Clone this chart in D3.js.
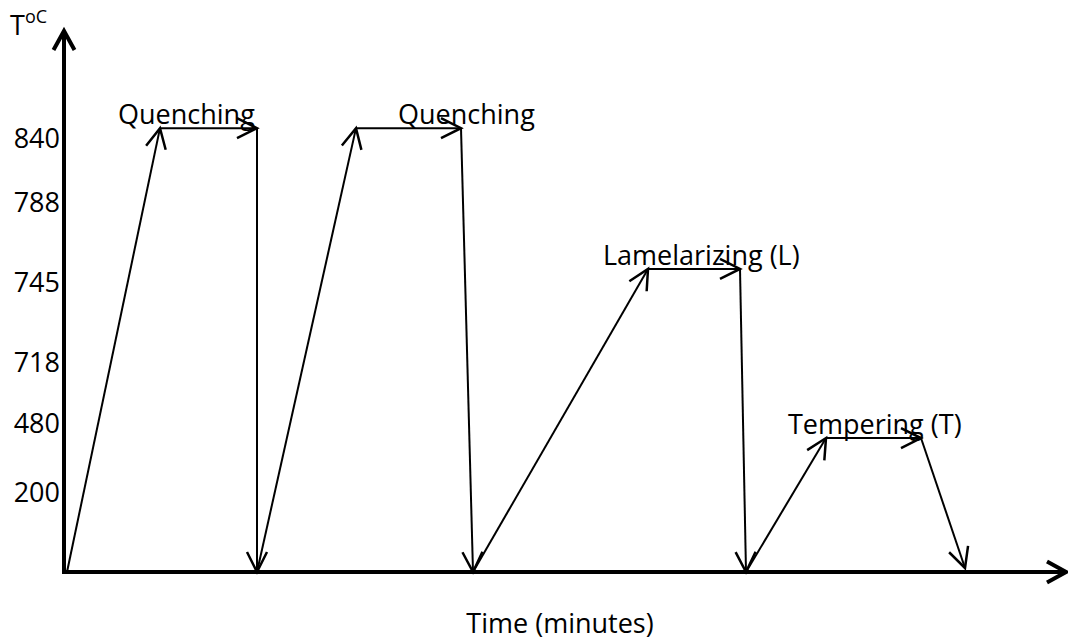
<!DOCTYPE html>
<html>
<head>
<meta charset="utf-8">
<script src="https://cdn.jsdelivr.net/npm/d3@7"></script>
<style>
  html, body { margin: 0; padding: 0; background: #fff; }
  svg { display: block; }
  text { font-family: "Open Sans", Lato, sans-serif; fill: #000; }
</style>
</head>
<body>
<div id="chart"></div>
<script>
// ---------------- data ----------------
const yTickValues = [200, 480, 718, 745, 788, 840];
// schedule points: time (arbitrary units) and temperature (°C)
const times = [0.2, 9.5, 19.2, 19.2, 29.1, 39.6, 40.8, 58.3, 67.5, 68.1, 76.1, 85.6, 90.0];
const temps = [0, 848, 848, 0, 848, 848, 0, 752, 752, 0, 419, 419, 10];
// annotation labels (anchored in data units)
const labelTexts = ["Quenching", "Quenching", "Lamelarizing (L)", "Tempering (T)"];
const labelTimes = [5.3, 33.3, 53.8, 72.3];
const labelTemps = [848, 848, 752, 419];
const xTitle = "Time (minutes)";

// ---------------- layout ----------------
const W = 1068, H = 644;
const FONT = "'Open Sans', Lato, sans-serif";
const svg = d3.select("#chart").append("svg").attr("width", W).attr("height", H);

const x = d3.scaleLinear().domain([0, 100]).range([65, 1065]);
// schematic (non-uniform) temperature axis
const y = d3.scaleLinear()
  .domain([0, 200, 480, 718, 745, 788, 840])
  .range([572, 492, 423, 362, 282, 202, 138]);

const defs = svg.append("defs");
defs.append("marker")
  .attr("id", "head")
  .attr("markerUnits", "userSpaceOnUse")
  .attr("viewBox", "-24 -14 28 28")
  .attr("refX", 0).attr("refY", 0)
  .attr("markerWidth", 28).attr("markerHeight", 28)
  .attr("orient", "auto")
  .style("overflow", "visible")
  .append("path")
  .attr("d", "M-20,-10 L0,0 L-20,10")
  .attr("fill", "none").attr("stroke", "#000").attr("stroke-width", 2.5)
  .attr("stroke-linejoin", "miter");

defs.append("marker")
  .attr("id", "axhead")
  .attr("markerUnits", "userSpaceOnUse")
  .attr("viewBox", "-24 -14 28 28")
  .attr("refX", 0).attr("refY", 0)
  .attr("markerWidth", 28).attr("markerHeight", 28)
  .attr("orient", "auto")
  .style("overflow", "visible")
  .append("path")
  .attr("d", "M-19,-10.5 L0,0 L-19,10.5")
  .attr("fill", "none").attr("stroke", "#000").attr("stroke-width", 4)
  .attr("stroke-linejoin", "miter");

// axes lines with arrowheads
const x0 = x(-0.1), yBase = y(0);
svg.append("line")
  .attr("x1", x0).attr("y1", yBase + 2).attr("x2", x0).attr("y2", 31)
  .attr("stroke", "#000").attr("stroke-width", 4)
  .attr("marker-end", "url(#axhead)");
svg.append("line")
  .attr("x1", x0 - 2).attr("y1", yBase).attr("x2", 1066).attr("y2", yBase)
  .attr("stroke", "#000").attr("stroke-width", 4)
  .attr("marker-end", "url(#axhead)");

// y tick labels
const yAxis = d3.axisLeft(y).tickValues(yTickValues).tickSize(0).tickPadding(3);
const gy = svg.append("g").attr("transform", `translate(${x0 - 1},0)`).call(yAxis);
gy.select(".domain").remove();
gy.selectAll("text")
  .style("font-family", FONT)
  .style("font-size", "27px")
  .attr("fill", "#000")
  .attr("dy", "0.36em");

// y title T^oC
const yt = svg.append("text").attr("x", 10).attr("y", 35).style("font-size", "27px");
yt.append("tspan").text("T");
yt.append("tspan").attr("dy", -12).style("font-size", "18px").text("oC");

// schedule segments
const segs = d3.range(times.length - 1).map(i => [
  [times[i], temps[i]], [times[i + 1], temps[i + 1]]
]);
const line = d3.line().x(d => x(d[0])).y(d => y(d[1]));
svg.append("g").selectAll("path").data(segs).join("path")
  .attr("d", line)
  .attr("fill", "none")
  .attr("stroke", "#000")
  .attr("stroke-width", 2)
  .attr("marker-end", "url(#head)");

// annotation labels
svg.append("g").selectAll("text").data(labelTexts).join("text")
  .attr("x", (d, i) => x(labelTimes[i]))
  .attr("y", (d, i) => y(labelTemps[i]) - 4)
  .style("font-size", "27px")
  .text(d => d);

// x title
svg.append("text")
  .attr("x", 560).attr("y", 633)
  .attr("text-anchor", "middle")
  .style("font-size", "27px")
  .text(xTitle);
</script>
</body>
</html>
